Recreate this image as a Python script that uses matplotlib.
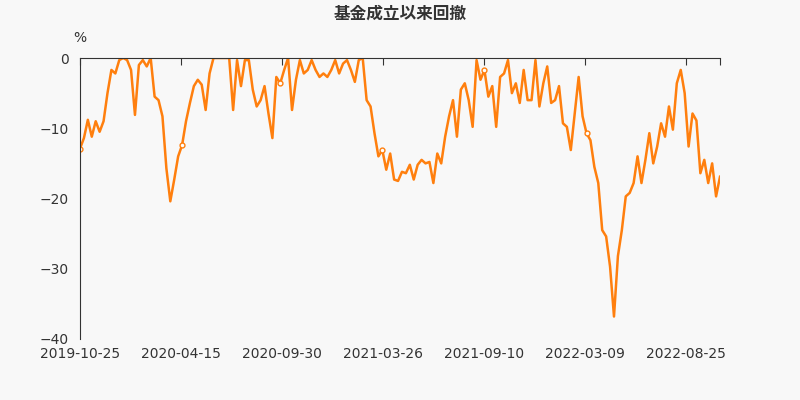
import numpy as np
import matplotlib.pyplot as plt
from matplotlib import font_manager

names = {f.name for f in font_manager.fontManager.ttflist}
cjk = [n for n in names if 'CJK' in n]
print(sorted(cjk))
plt.rcParams['font.family'] = ['DejaVu Sans']
title_font = sorted(cjk)[0] if cjk else 'DejaVu Sans'

# drawdown (%) sampled roughly evenly over the period
drawdown = [
    -12.9, -11.4, -8.8, -11.2, -9.0, -10.5, -9.0, -5.0, -1.7, -2.2, -0.3, 0.0, -0.3, -1.7,
    -8.1, -1.0, -0.3, -1.2, 0.0, -5.5, -6.0, -8.3, -15.7, -20.4, -17.3, -14.0, -12.4, -9.0,
    -6.4, -4.0, -3.1, -3.8, -7.4, -2.2, 0.0, 0.0, 0.0, 0.0, 0.0, -7.4, -0.3, -4.0, -0.3, -0.3,
    -4.5, -6.9, -6.0, -4.0, -7.9, -11.4, -2.7, -3.6, -1.7, 0.0, -7.4, -3.1, -0.3, -2.2, -1.7,
    -0.3, -1.7, -2.7, -2.2, -2.7, -1.7, -0.3, -2.2, -0.8, -0.3, -1.7, -3.4, -0.3, 0.0, -6.0,
    -6.9, -10.7, -14.0, -13.1, -15.9, -13.6, -17.3, -17.5, -16.2,
    -16.4, -15.2, -17.3, -15.2, -14.5, -15.0, -14.8, -17.8, -13.6, -15.0, -11.2, -8.3, -6.0,
    -11.2, -4.5, -3.6, -6.0, -9.8, -0.3, -3.1, -1.7, -5.5, -4.0, -9.8, -2.7, -2.2, -0.3, -5.0,
    -3.6, -6.4, -1.7, -6.0, -6.0, -0.3, -6.9, -3.6, -1.2, -6.4, -6.0, -4.0, -9.3, -9.8, -13.1,
    -7.9, -2.7, -8.3, -10.7, -11.7, -15.5, -17.8, -24.5, -25.4, -29.7, -36.8, -28.2, -24.5,
    -19.7, -19.2, -17.8, -14.0, -17.8, -14.5, -10.7, -15.0, -12.6, -9.3, -11.2, -6.9, -10.2,
    -3.6, -1.7, -5.0, -12.6, -7.9, -8.9, -16.4, -14.5, -17.8, -15.0, -19.7, -16.9,
]
tick_labels = ['2019-10-25', '2020-04-15', '2020-09-30', '2021-03-26',
               '2021-09-10', '2022-03-09', '2022-08-25']
y_ticks = [0, -10, -20, -30, -40]

bg = '#f8f8f8'
color = '#ff7f0e'
n = len(drawdown)
x = np.arange(n)
tick_pos = [i * (n - 1) * 101 / 640 for i in range(len(tick_labels))]

fig = plt.figure(figsize=(8, 4), dpi=100, facecolor=bg)
ax = fig.add_axes([0.1, 0.1525, 0.8, 0.7025], facecolor=bg)
ax.plot(x, drawdown, color=color, lw=1.8)
mk = [int(round(p)) for p in tick_pos[:6]]
ax.plot(mk, [drawdown[i] for i in mk], 'o', ms=3.5, mfc='white', mec=color, mew=1)

ax.set_xlim(0, n - 1)
ax.set_ylim(-40, 0)
ax.set_yticks(y_ticks)
ax.set_yticklabels(['0' if v == 0 else '\u2212%d' % -v for v in y_ticks])
for s in ['right', 'bottom']:
    ax.spines[s].set_visible(False)
for s in ['left', 'top']:
    ax.spines[s].set_color('#333333')
ax.tick_params(axis='y', length=0, labelsize=10, colors='#333333', pad=8)
ax.xaxis.tick_top()
ax.set_xticks(tick_pos + [n - 1])
ax.set_xticklabels([''] * (len(tick_pos) + 1))
ax.tick_params(axis='x', direction='in', length=5, color='#333333')
for p, lab in zip(tick_pos, tick_labels):
    ax.text(p, -41.2, lab, ha='center', va='top', fontsize=10, color='#333333')

fig.text(0.5, 0.965, '基金成立以来回撤', ha='center', va='center', family=title_font,
         fontsize=12, fontweight='bold', color='#333333')
fig.text(0.1, 0.905, '%', ha='center', va='center', fontsize=10, color='#333333')

fig.savefig('out.png', dpi=100, facecolor=bg)
